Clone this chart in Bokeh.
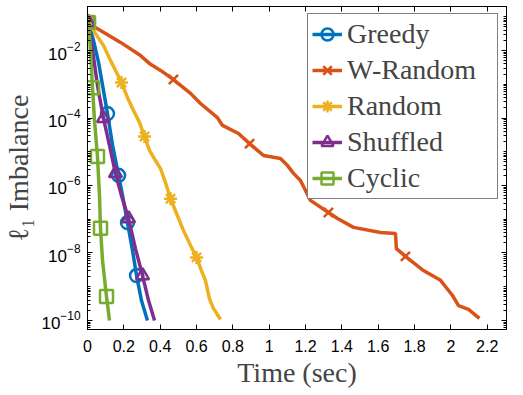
import numpy as np
from bokeh.plotting import figure
from bokeh.models import (LinearAxis, LogAxis, FixedTicker, Legend, LegendItem,
                          CustomJSTickFormatter)
from bokeh.embed import file_html
from bokeh.resources import INLINE

# ---- data (time in sec, log10 of l1 imbalance) ----
greedy_t = [0.0055, 0.033, 0.061, 0.088, 0.110, 0.138, 0.171, 0.193, 0.220, 0.248, 0.270, 0.297, 0.330]
greedy_logy = [-1.17, -1.70, -2.36, -3.19, -3.87, -4.81, -5.70, -6.30, -7.10, -7.93, -8.67, -9.41, -10.0]
greedy_marks = [0, 4, 6, 8, 10]

wrandom_t = [0.0055, 0.044, 0.182, 0.292, 0.347, 0.402, 0.473, 0.567, 0.622, 0.715, 0.743, 0.831,
             0.892, 0.969, 1.062, 1.101, 1.134, 1.172, 1.227, 1.326, 1.376, 1.464, 1.613, 1.695,
             1.700, 1.750, 1.849, 1.943, 2.009, 2.042, 2.097, 2.157]
wrandom_logy = [-1.17, -1.32, -1.76, -2.15, -2.41, -2.59, -2.86, -3.27, -3.57, -3.99, -4.22, -4.46,
                -4.76, -5.11, -5.20, -5.41, -5.64, -5.85, -6.44, -6.80, -6.98, -7.24, -7.39, -7.42,
                -7.87, -8.10, -8.52, -8.81, -9.26, -9.56, -9.67, -9.94]
wrandom_marks = [0, 6, 12, 19, 25]

random_t = [0.0055, 0.044, 0.088, 0.127, 0.160, 0.187, 0.220, 0.253, 0.286, 0.314, 0.341, 0.374,
            0.402, 0.429, 0.457, 0.490, 0.528, 0.567, 0.600, 0.627, 0.649, 0.671, 0.693, 0.732]
random_logy = [-1.17, -1.50, -1.85, -2.30, -2.65, -2.95, -3.39, -3.78, -4.13, -4.55, -4.96, -5.26,
               -5.50, -5.91, -6.39, -6.83, -7.33, -7.78, -8.13, -8.52, -8.81, -9.35, -9.64, -9.97]
random_marks = [0, 5, 9, 14, 18]

shuffled_t = [0.0055, 0.028, 0.055, 0.088, 0.121, 0.154, 0.187, 0.226, 0.264, 0.303, 0.336, 0.369]
shuffled_logy = [-1.17, -2.0, -3.04, -4.01, -4.81, -5.64, -6.30, -6.98, -7.87, -8.67, -9.41, -10.0]
shuffled_marks = [0, 3, 5, 7, 9]

cyclic_t = [0.0055, 0.0165, 0.0275, 0.0385, 0.055, 0.066, 0.0715, 0.0826, 0.1046, 0.121]
cyclic_logy = [-1.17, -2.0, -3.10, -4.07, -5.14, -6.30, -7.27, -8.22, -9.29, -10.0]
cyclic_marks = [0, 2, 4, 6, 8]

x_ticks = [0, 0.2, 0.4, 0.6, 0.8, 1, 1.2, 1.4, 1.6, 1.8, 2, 2.2]
y_tick_exps = [-10, -8, -6, -4, -2]

series = [
    ("Greedy", greedy_t, greedy_logy, greedy_marks, "#0072BD", "circle"),
    ("W-Random", wrandom_t, wrandom_logy, wrandom_marks, "#D95319", "x"),
    ("Random", random_t, random_logy, random_marks, "#EDB120", "asterisk"),
    ("Shuffled", shuffled_t, shuffled_logy, shuffled_marks, "#7E2F8E", "triangle"),
    ("Cyclic", cyclic_t, cyclic_logy, cyclic_marks, "#77AC30", "square"),
]

y_lo, y_hi = 10 ** -10.267, 10 ** -0.696

p = figure(width=523, height=395, x_range=(0, 2.306), y_range=(y_lo, y_hi),
           y_axis_type="log", output_backend="svg", toolbar_location=None,
           min_border_left=87, min_border_right=17, min_border_top=6, min_border_bottom=66)
p.xgrid.visible = False
p.ygrid.visible = False
p.outline_line_color = "black"
p.outline_line_width = 1
p.background_fill_color = "white"
p.border_fill_color = "white"

items = []
for name, t, ly, marks, col, mk in series:
    y = [10 ** v for v in ly]
    lr = p.line(t, y, line_color=col, line_width=3.5)
    mt = [t[i] for i in marks]
    my = [y[i] for i in marks]
    mr = p.scatter(mt, my, marker=mk, size=13, line_color=col, line_width=2.5,
                   fill_color=None)
    items.append(LegendItem(label=name, renderers=[lr, mr]))

minor = []
for e in range(-11, 0):
    for k in range(1, 10):
        minor.append(k * 10.0 ** e)
yticker = FixedTicker(ticks=[10.0 ** e for e in y_tick_exps], minor_ticks=minor)
xticker = FixedTicker(ticks=x_ticks)

xfmt = CustomJSTickFormatter(code="return String(Math.round(tick*10)/10);")

def style_axis(ax, show_labels):
    ax.axis_line_color = "black"
    ax.major_tick_line_color = "black"
    ax.minor_tick_line_color = "black"
    ax.major_tick_in = 5
    ax.major_tick_out = 0
    ax.minor_tick_in = 3
    ax.minor_tick_out = 0
    ax.major_label_text_font = "Liberation Sans"
    if show_labels:
        ax.major_label_text_font_size = "16px"
        ax.major_label_text_color = "black"
    else:
        ax.major_label_text_font_size = "0px"
        ax.major_label_text_color = None
        ax.major_label_standoff = 0

xa = p.xaxis[0]
xa.ticker = xticker
xa.formatter = xfmt
style_axis(xa, True)
xa.minor_tick_line_color = None
xa.major_label_standoff = 10
xa.axis_label = "Time (sec)"
xa.axis_label_text_font = "Liberation Serif"
xa.axis_label_text_font_size = "28px"
xa.axis_label_text_font_style = "normal"
xa.axis_label_standoff = 2

ya = p.yaxis[0]
ya.ticker = yticker
style_axis(ya, True)
ya.major_label_text_font_size = "17px"
ya.major_label_standoff = 7
ya.axis_label = "\u2113\u2081 Imbalance"
ya.axis_label_text_font = "Liberation Serif"
ya.axis_label_text_font_size = "28px"
ya.axis_label_text_font_style = "normal"
ya.axis_label_standoff = 4

top = LinearAxis(ticker=FixedTicker(ticks=x_ticks))
style_axis(top, False)
top.minor_tick_line_color = None
p.add_layout(top, "above")

right = LogAxis(ticker=FixedTicker(ticks=[10.0 ** e for e in y_tick_exps], minor_ticks=minor))
style_axis(right, False)
p.add_layout(right, "right")

legend = Legend(items=items, location=(220, 130))
legend.label_text_font = "Liberation Serif"
legend.label_text_font_size = "28px"
legend.glyph_width = 30
legend.glyph_height = 30
legend.label_height = 30
legend.label_width = 146
legend.spacing = 4
legend.padding = 4
legend.margin = 0
legend.label_standoff = 5
legend.border_line_color = "black"
legend.border_line_width = 1
legend.background_fill_alpha = 1
p.add_layout(legend, "center")

open("out.html", "w").write(file_html(p, INLINE))
